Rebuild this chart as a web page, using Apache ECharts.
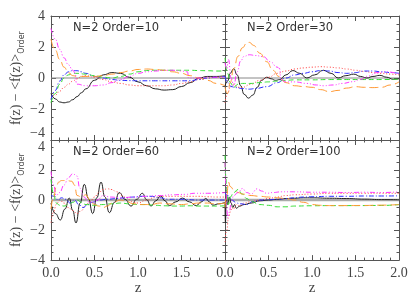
<!DOCTYPE html>
<html><head><meta charset="utf-8">
<script src="https://cdn.jsdelivr.net/npm/echarts@6/dist/echarts.min.js"></script>
<style>html,body{margin:0;padding:0;background:#fff}#c{width:415px;height:297px}</style>
</head><body><div id="c"></div><script>
// ---------------- data ----------------
const panelTitles = ['N=2 Order=10', 'N=2 Order=30', 'N=2 Order=60', 'N=2 Order=100'];
const xTicks = [0, 0.5, 1.0, 1.5, 2.0];
const yTicks = [-4, -2, 0, 2, 4];

// Order = 10
const o10_black = [[0,-1.0],[0.05,-1.35],[0.1,-1.55],[0.15,-1.6],[0.2,-1.55],[0.25,-1.4],[0.3,-1.2],[0.35,-0.95],[0.4,-0.7],[0.5,-0.15],[0.6,0.2],[0.7,0.35],[0.8,0.3],[0.9,0.05],[1.0,-0.25],[1.1,-0.5],[1.2,-0.7],[1.3,-0.78],[1.4,-0.75],[1.5,-0.55],[1.6,-0.3],[1.7,0.0],[1.8,0.1],[1.9,0.1],[2.0,0.15]];
const o10_red = [[0,-1.3],[0.05,-1.1],[0.1,-0.85],[0.15,-0.6],[0.2,-0.4],[0.25,-0.2],[0.3,-0.05],[0.35,0.1],[0.4,0.15],[0.5,0.05],[0.6,-0.1],[0.7,-0.25],[0.8,-0.35],[0.9,-0.45],[1.0,-0.5],[1.1,-0.5],[1.2,-0.5],[1.3,-0.5],[1.4,-0.45],[1.5,-0.35],[1.6,-0.25],[1.7,-0.1],[1.8,0.0],[1.9,0.05],[2.0,0.1]];
const o10_blue = [[0,-1.4],[0.05,-0.8],[0.1,-0.2],[0.15,0.2],[0.2,0.4],[0.25,0.48],[0.3,0.47],[0.35,0.4],[0.4,0.3],[0.5,0.1],[0.6,0.0],[0.7,-0.1],[0.8,-0.15],[0.9,-0.17],[1.0,-0.18],[1.2,-0.18],[1.4,-0.18],[1.6,-0.18],[1.7,-0.1],[1.8,0.0],[1.9,0.05],[2.0,0.1]];
const o10_green = [[0,-1.6],[0.05,-1.0],[0.1,-0.4],[0.15,0.0],[0.2,0.2],[0.25,0.3],[0.3,0.3],[0.4,0.25],[0.5,0.15],[0.6,0.05],[0.7,0.0],[0.8,0.1],[0.9,0.25],[1.0,0.4],[1.1,0.48],[1.2,0.5],[1.3,0.5],[1.4,0.5],[1.5,0.5],[1.6,0.5],[1.7,0.48],[1.8,0.47],[1.9,0.45],[2.0,0.45]];
const o10_orange = [[0,2.5],[0.05,1.8],[0.1,1.2],[0.15,0.7],[0.2,0.35],[0.25,0.15],[0.3,0.1],[0.4,0.1],[0.5,0.1],[0.6,0.15],[0.7,0.25],[0.8,0.35],[0.9,0.45],[1.0,0.55],[1.1,0.58],[1.2,0.55],[1.3,0.5],[1.4,0.4],[1.5,0.3],[1.6,0.15],[1.7,0.0],[1.8,-0.15],[1.9,-0.35],[2.0,-0.5]];
const o10_magenta = [[0,3.2],[0.05,2.5],[0.1,1.85],[0.15,1.3],[0.2,0.85],[0.25,0.5],[0.28,0.3],[0.29,-0.3],[0.3,-0.4],[0.4,-0.5],[0.5,-0.5],[0.6,-0.45],[0.7,-0.3],[0.8,-0.1],[0.9,0.1],[1.0,0.3],[1.1,0.4],[1.2,0.45],[1.3,0.5],[1.4,0.5],[1.5,0.45],[1.57,0.4],[1.58,0.0],[1.7,0.0],[1.8,0.05],[1.9,0.05],[2.0,0.05]];

// Order = 30
const o30_black = [[0,-0.5],[0.03,-0.2],[0.06,0.3],[0.1,0.6],[0.14,0.2],[0.18,-0.5],[0.22,-1.05],[0.27,-1.3],[0.32,-1.1],[0.37,-0.6],[0.42,-0.15],[0.48,0.05],[0.53,-0.05],[0.58,-0.15],[0.63,-0.1],[0.7,0.2],[0.78,0.48],[0.86,0.3],[0.94,0.0],[1.03,0.2],[1.13,0.5],[1.22,0.3],[1.3,0.0],[1.39,0.15],[1.48,0.25],[1.56,0.1],[1.63,0.0],[1.7,0.1],[1.78,0.17],[1.86,0.05],[1.93,-0.08],[2.0,-0.05]];
const o30_red = [[0,-1.6],[0.03,-1.0],[0.06,-0.6],[0.1,-0.4],[0.15,-0.6],[0.2,-0.6],[0.3,-0.4],[0.4,-0.15],[0.5,0.05],[0.6,0.3],[0.7,0.45],[0.8,0.58],[0.9,0.65],[1.0,0.7],[1.1,0.73],[1.2,0.7],[1.3,0.65],[1.4,0.58],[1.5,0.5],[1.6,0.42],[1.7,0.35],[1.8,0.3],[1.9,0.25],[2.0,0.2]];
const o30_blue = [[0,0.1],[0.03,-0.3],[0.07,-0.55],[0.12,-0.62],[0.2,-0.68],[0.28,-0.72],[0.35,-0.68],[0.48,-0.56],[0.6,-0.3],[0.7,0.0],[0.8,0.2],[0.9,0.3],[1.0,0.4],[1.1,0.48],[1.2,0.45],[1.3,0.35],[1.4,0.3],[1.5,0.35],[1.6,0.45],[1.7,0.45],[1.8,0.4],[1.9,0.35],[2.0,0.3]];
const o30_green = [[0,1.3],[0.03,0.3],[0.06,-0.3],[0.1,-0.6],[0.15,-0.4],[0.2,-0.35],[0.3,-0.35],[0.4,-0.3],[0.5,-0.25],[0.6,-0.2],[0.7,-0.15],[0.8,-0.12],[1.0,-0.12],[1.2,-0.1],[1.4,-0.1],[1.6,-0.1],[1.8,-0.1],[2.0,-0.08]];
const o30_orange = [[0,-0.6],[0.03,-1.0],[0.06,-0.3],[0.1,0.6],[0.15,1.4],[0.2,1.95],[0.25,2.25],[0.28,2.3],[0.33,2.1],[0.4,1.6],[0.48,1.05],[0.55,0.5],[0.62,0.1],[0.7,-0.3],[0.8,-0.5],[0.9,-0.55],[1.0,-0.6],[1.1,-0.75],[1.2,-0.88],[1.3,-0.8],[1.4,-0.65],[1.5,-0.56],[1.6,-0.6],[1.7,-0.62],[1.8,-0.6],[1.9,-0.45],[2.0,-0.25]];
const o30_magenta = [[0,1.0],[0.02,0.6],[0.04,1.2],[0.07,0.0],[0.1,-0.5],[0.14,0.4],[0.18,1.1],[0.22,1.4],[0.28,1.5],[0.35,1.45],[0.44,1.38],[0.52,1.05],[0.6,0.7],[0.63,0.6],[0.64,-0.1],[0.7,-0.25],[0.8,-0.25],[0.94,-0.35],[1.05,-0.45],[1.13,-0.5],[1.25,-0.45],[1.35,-0.35],[1.47,-0.24],[1.55,-0.1],[1.65,0.13],[1.75,0.35],[1.85,0.4],[2.0,0.26]];

// Order = 60
const o60_black = [[0,-0.2],[0.05,-0.9],[0.107,-1.33],[0.16,-0.6],[0.21,0.13],[0.25,-0.7],[0.287,-1.53],[0.335,-0.2],[0.383,1.05],[0.43,0.1],[0.479,-0.9],[0.527,0.15],[0.575,1.2],[0.62,0.2],[0.67,-0.84],[0.73,-0.15],[0.785,0.5],[0.85,0.05],[0.92,-0.4],[0.985,0.05],[1.05,0.45],[1.1,0.02],[1.15,-0.4],[1.205,-0.05],[1.26,0.28],[1.31,-0.05],[1.36,-0.37],[1.435,-0.12],[1.51,0.13],[1.59,-0.12],[1.67,-0.37],[1.725,-0.13],[1.78,0.1],[1.82,-0.12],[1.86,-0.34],[1.93,-0.25],[2.0,-0.15]];
const o60_red = [[0,-1.5],[0.03,-0.8],[0.06,-0.3],[0.1,0.0],[0.15,-0.2],[0.2,-0.5],[0.25,-0.7],[0.3,-0.9],[0.35,-0.7],[0.4,-0.3],[0.45,-0.1],[0.5,0.2],[0.55,0.5],[0.6,0.7],[0.65,0.75],[0.7,0.7],[0.75,0.55],[0.85,0.2],[0.95,-0.15],[1.0,-0.2],[1.1,0.0],[1.2,0.2],[1.3,0.25],[1.4,0.25],[1.5,0.25],[1.6,0.25],[1.7,0.25],[1.8,0.22],[1.9,0.2],[2.0,0.2]];
const o60_blue = [[0,0.3],[0.04,0.25],[0.08,0.0],[0.12,0.15],[0.17,0.05],[0.22,-0.2],[0.27,0.0],[0.32,-0.3],[0.37,-0.5],[0.42,-0.3],[0.47,-0.15],[0.55,0.0],[0.65,0.05],[0.75,0.1],[0.85,0.15],[0.95,0.2],[1.05,0.25],[1.15,0.25],[1.25,0.15],[1.35,0.05],[1.5,0.05],[1.7,0.0],[2.0,0.0]];
const o60_green = [[0,1.4],[0.03,0.4],[0.06,-0.2],[0.1,-0.35],[0.15,-0.4],[0.2,-0.3],[0.25,-0.15],[0.3,0.0],[0.35,-0.15],[0.4,-0.3],[0.5,-0.35],[0.6,-0.3],[0.7,-0.25],[0.8,-0.2],[0.9,-0.25],[1.0,-0.3],[1.1,-0.3],[1.2,-0.35],[1.3,-0.38],[1.4,-0.4],[1.5,-0.4],[1.6,-0.38],[1.7,-0.4],[1.8,-0.4],[1.9,-0.4],[2.0,-0.38]];
const o60_orange = [[0,-0.6],[0.03,0.2],[0.06,0.9],[0.09,1.2],[0.12,1.3],[0.18,1.3],[0.24,1.25],[0.27,1.0],[0.3,0.3],[0.35,0.2],[0.4,0.35],[0.45,0.0],[0.5,-0.3],[0.55,-0.4],[0.6,-0.5],[0.65,-0.4],[0.7,-0.2],[0.8,0.0],[0.85,-0.05],[0.95,-0.25],[1.05,-0.3],[1.15,-0.3],[1.25,-0.2],[1.35,-0.25],[1.5,-0.3],[1.6,-0.25],[1.7,-0.2],[1.8,-0.2],[1.9,-0.25],[2.0,-0.2]];
const o60_magenta = [[0,1.9],[0.03,1.0],[0.06,0.3],[0.1,0.5],[0.15,1.0],[0.2,1.5],[0.25,1.75],[0.3,1.6],[0.33,0.8],[0.38,0.2],[0.43,-0.1],[0.48,-0.15],[0.53,0.0],[0.6,0.3],[0.68,0.2],[0.8,0.15],[0.95,0.2],[1.1,0.25],[1.25,0.3],[1.4,0.35],[1.55,0.38],[1.65,0.45],[1.8,0.45],[2.0,0.5]];

// Order = 100
const o100_black = [[0,-0.2],[0.005,-1.5],[0.015,0.3],[0.03,-0.3],[0.05,0.2],[0.07,-0.2],[0.09,-0.5],[0.11,-0.3],[0.13,-0.55],[0.17,-0.4],[0.22,-0.3],[0.3,-0.2],[0.4,-0.05],[0.5,0.0],[0.6,0.05],[0.7,0.1],[0.8,0.12],[0.9,0.15],[1.0,0.15],[1.2,0.12],[1.4,0.1],[1.6,0.06],[1.8,0.03],[2.0,0.02]];
const o100_red = [[0,-2.8],[0.02,-2.0],[0.04,-1.2],[0.06,-0.8],[0.08,-0.5],[0.1,-0.6],[0.13,-0.3],[0.17,-0.4],[0.22,-0.2],[0.3,-0.1],[0.4,0.0],[0.5,0.1],[0.6,0.2],[0.7,0.3],[0.8,0.35],[1.0,0.4],[1.2,0.45],[1.4,0.45],[1.6,0.45],[1.8,0.45],[2.0,0.45]];
const o100_blue = [[0,0.5],[0.03,0.3],[0.08,0.0],[0.13,-0.2],[0.18,-0.25],[0.25,-0.3],[0.32,-0.1],[0.4,0.0],[0.5,0.02],[0.6,0.05],[0.7,0.1],[0.8,0.15],[0.9,0.2],[1.0,0.22],[1.2,0.25],[1.4,0.25],[1.6,0.27],[1.8,0.27],[2.0,0.28]];
const o100_green = [[0,3.0],[0.01,1.5],[0.02,0.3],[0.04,-0.3],[0.06,0.2],[0.1,0.5],[0.15,0.7],[0.2,0.4],[0.25,0.1],[0.3,-0.1],[0.4,-0.3],[0.5,-0.35],[0.6,-0.45],[0.7,-0.45],[0.8,-0.4],[1.0,-0.38],[1.2,-0.37],[1.5,-0.37],[1.8,-0.36],[2.0,-0.3]];
const o100_orange = [[0,-0.5],[0.02,0.3],[0.04,1.2],[0.06,0.9],[0.1,0.7],[0.15,0.5],[0.2,0.4],[0.3,0.3],[0.4,0.25],[0.5,0.2],[0.6,0.15],[0.7,0.1],[0.8,0.0],[0.9,-0.15],[1.0,-0.3],[1.1,-0.35],[1.2,-0.37],[1.4,-0.37],[1.6,-0.36],[1.8,-0.34],[2.0,-0.3]];
const o100_magenta = [[0,2.5],[0.01,1.0],[0.02,-0.5],[0.03,-1.2],[0.05,-0.8],[0.07,-0.2],[0.1,0.3],[0.15,0.5],[0.2,0.77],[0.25,0.5],[0.3,0.4],[0.37,0.75],[0.42,0.6],[0.48,0.45],[0.55,0.5],[0.65,0.55],[0.8,0.55],[1.0,0.52],[1.2,0.52],[1.4,0.5],[1.6,0.52],[1.8,0.5],[2.0,0.55]];

const panelData = [
  [o10_black, o10_red, o10_blue, o10_green, o10_orange, o10_magenta],
  [o30_black, o30_red, o30_blue, o30_green, o30_orange, o30_magenta],
  [o60_black, o60_red, o60_blue, o60_green, o60_orange, o60_magenta],
  [o100_black, o100_red, o100_blue, o100_green, o100_orange, o100_magenta]
];

// ---------------- styles ----------------
const lineStyles = [
  {color: '#222222', type: 'solid'},
  {color: '#ff4040', type: [1, 2]},
  {color: '#2a2aff', type: [5, 2, 1, 2]},
  {color: '#33dd33', type: [5, 3]},
  {color: '#ff9933', type: [9, 4]},
  {color: '#ff33ff', type: [5, 2, 1, 2, 1, 2, 1, 2]}
];
const gridPos = [[51, 16], [225, 16], [51, 140], [225, 140]];
const GW = 174, GH = 124;
const axisCol = '#555';
const textCol = '#444';
const serif = 'Liberation Serif';

const grids = [], xAxes = [], yAxes = [], series = [], graphics = [];
const minus = s => String(s).replace('-', '\u2212');

gridPos.forEach((p, g) => {
  grids.push({left: p[0], top: p[1], width: GW, height: GH, show: false});
  const isBottom = g >= 2, isLeft = (g % 2) === 0;
  ['bottom', 'top'].forEach(pos => {
    xAxes.push({
      gridIndex: g, type: 'value', min: 0, max: 2, interval: 0.5, position: pos,
      axisLine: {show: true, onZero: false, lineStyle: {color: axisCol, width: 1}},
      axisTick: {show: true, inside: true, length: 5, lineStyle: {color: axisCol}},
      minorTick: {show: true, splitNumber: 5, length: 2.5, lineStyle: {color: axisCol}},
      splitLine: {show: false},
      axisLabel: {
        show: isBottom && pos === 'bottom', margin: 6, color: textCol,
        fontFamily: serif, fontSize: 14,
        showMaxLabel: !isLeft, showMinLabel: true,
        formatter: v => v.toFixed(1)
      },
      name: (isBottom && pos === 'bottom') ? 'z' : '',
      nameLocation: 'middle', nameGap: 20,
      nameTextStyle: {fontFamily: serif, fontSize: 15, color: textCol}
    });
  });
  ['left', 'right'].forEach(pos => {
    const showLab = isLeft && pos === 'left';
    yAxes.push({
      gridIndex: g, type: 'value', min: -4, max: 4, interval: 2, position: pos,
      axisLine: {show: true, onZero: false, lineStyle: {color: axisCol, width: 1}},
      axisTick: {show: true, inside: true, length: 5, lineStyle: {color: axisCol}},
      minorTick: {show: true, splitNumber: 4, length: 2.5, lineStyle: {color: axisCol}},
      splitLine: {show: false},
      axisLabel: {
        show: showLab, margin: 6, color: textCol, fontFamily: serif, fontSize: 14,
        formatter: v => minus(v),
        verticalAlignMinLabel: g === 0 ? 'bottom' : null,
        verticalAlignMaxLabel: g === 2 ? 'top' : null
      },
      name: showLab ? '{m|f(z) \u2212 <f(z)>}{s|Order}' : '',
      nameLocation: 'middle', nameRotate: 90, nameGap: 24,
      nameTextStyle: {
        color: textCol,
        rich: {
          m: {fontFamily: serif, fontSize: 14, lineHeight: 20, color: textCol},
          s: {fontFamily: 'DejaVu Sans', fontSize: 8, lineHeight: 9, verticalAlign: 'bottom', color: textCol}
        }
      }
    });
  });
  // zero reference line
  series.push({
    type: 'line', xAxisIndex: 2 * g, yAxisIndex: 2 * g, data: [[0, 0], [2, 0]],
    showSymbol: false, silent: true, z: 1,
    lineStyle: {color: isBottom ? '#aaaaaa' : '#888888', width: isBottom ? 2.5 : 1}
  });
  panelData[g].forEach((d, k) => {
    series.push({
      type: 'line', xAxisIndex: 2 * g, yAxisIndex: 2 * g, data: d,
      showSymbol: false, smooth: 0.5, smoothMonotone: 'x', clip: true, z: 2 + k,
      lineStyle: {color: lineStyles[k].color, type: lineStyles[k].type, width: 1}
    });
  });
  graphics.push({
    type: 'text', left: p[0] + 22, top: p[1] + 6,
    style: {text: panelTitles[g], fontFamily: 'DejaVu Sans', fontSize: 11.5, fill: '#333'}
  });
});

const chart = echarts.init(document.getElementById('c'), null, {renderer: 'canvas'});
chart.setOption({
  animation: false,
  backgroundColor: '#fff',
  grid: grids, xAxis: xAxes, yAxis: yAxes, series: series, graphic: graphics
});
</script></body></html>
